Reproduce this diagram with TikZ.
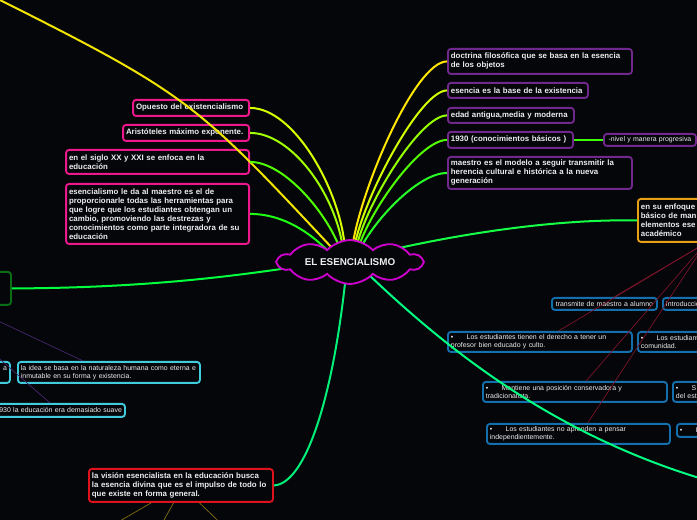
\documentclass[tikz,border=0pt]{standalone}
\usepackage{fontspec}
\setmainfont{Liberation Sans}
\usepackage{tikz}
\usetikzlibrary{shapes.symbols,calc}
\definecolor{bgink}{RGB}{5,6,10}
\definecolor{boxtext}{RGB}{238,238,238}
\definecolor{pinkline}{RGB}{236,24,140}
\definecolor{plumline}{RGB}{112,40,140}
\definecolor{blueline}{RGB}{20,112,172}
\definecolor{cyanline}{RGB}{64,204,220}
\definecolor{goldline}{RGB}{232,160,20}
\definecolor{redline}{RGB}{222,18,28}
\definecolor{forestline}{RGB}{10,110,22}
\definecolor{cloudline}{RGB}{206,0,206}
\definecolor{wineink}{RGB}{125,20,42}
\definecolor{oliveink}{RGB}{135,112,20}
\definecolor{violetink}{RGB}{72,40,112}
\newcommand\boldsm{\fontsize{5.9}{6.75}\selectfont\bfseries}
\newcommand\plainsm{\fontsize{5.2}{6}\selectfont}
\newcommand\itembul{\textbullet\hspace{10pt}}

\begin{document}
\begin{tikzpicture}[
  x=0.75pt, y=-0.75pt,
  box/.style={draw, rounded corners=2.2pt, line width=1.4pt, fill=bgink, text=boxtext,
    anchor=north west, align=left, inner xsep=2.25pt, inner ysep=0pt},
  pinkbox/.style={box, draw=pinkline, font=\boldsm, anchor=north east},
  plumbox/.style={box, draw=plumline, font=\boldsm},
  bluebox/.style={box, draw=blueline, font=\plainsm},
  cyanbox/.style={box, draw=cyanline, font=\plainsm},
  link/.style={line width=1.5pt},
  twig/.style={line width=0.5pt},
  hubcloud/.style={cloud, cloud puffs=10, cloud puff arc=95, aspect=4.6, draw=cloudline,
    line width=1.4pt, fill=bgink, text=boxtext, font=\fontsize{7.4}{8}\selectfont\bfseries,
    minimum width=108pt, minimum height=26pt, inner sep=0pt},
]
  \useasboundingbox (0,0) rectangle (697,520);
  \fill[bgink] (0,0) rectangle (697,520);
  \clip (0,0) rectangle (697,520);

  % left branch (pink)
  \node[pinkbox, text width=82.5pt, minimum height=12pt] (opuesto) at (250,99) {Opuesto del existencialismo};
  \node[pinkbox, text width=90pt, minimum height=12pt] (aristo) at (250,124) {Aristóteles máximo exponente.};
  \node[pinkbox, text width=132.75pt, minimum height=18pt] (siglo) at (250,149)
    {en el siglo XX y XXI se enfoca en la\\educación};
  \node[pinkbox, text width=132.75pt, minimum height=45pt] (maestro) at (250,183)
    {esencialismo le da al maestro es el de\\proporcionarle todas las herramientas para\\que logre que los estudiantes obtengan un\\cambio, promoviendo las destrezas y\\conocimientos como parte integradora de su\\educación};

  % right branch (plum)
  \node[plumbox, text width=133.5pt, minimum height=18.75pt] (doctrina) at (447,48)
    {doctrina filosófica que se basa en la esencia\\de los objetos};
  \node[plumbox, text width=100.5pt, minimum height=11.25pt] (base) at (447,82) {esencia es la base de la existencia};
  \node[plumbox, text width=90pt, minimum height=11.25pt] (edad) at (447,107) {edad antigua,media y moderna};
  \node[plumbox, text width=89.25pt, minimum height=12pt] (anio) at (447,131) {1930 (conocimientos básicos )};
  \node[plumbox, font=\plainsm, align=center, text width=64.5pt, minimum height=9pt] (nivel) at (603,133) {-nivel y manera progresiva};
  \node[plumbox, text width=133.5pt, minimum height=24pt] (modelo) at (447,156)
    {maestro es el modelo a seguir transmitir la\\herencia cultural e histórica a la nueva\\generación};

  % enfoque and its bullets
  \node[box, draw=goldline, font=\boldsm, text width=97.5pt, minimum height=32.25pt] (enfoque) at (637,198)
    {en su enfoque\\básico de man\\elementos ese\\académico};
  \node[bluebox, align=center, text width=74.25pt, minimum height=9pt] (transmite) at (551,297) {transmite de maestro a alumno};
  \node[bluebox, text width=70.5pt, minimum height=9pt] (intro) at (662,297) {Introducción};
  \node[bluebox, text width=133.5pt, minimum height=15pt] (derecho) at (447,331)
    {\itembul Los estudiantes tienen el derecho a tener un\\profesor bien educado y culto.};
  \node[bluebox, text width=133.5pt, minimum height=15pt] (comunidad) at (637,331)
    {\itembul Los estudiantes\\comunidad.};
  \node[bluebox, text width=133.5pt, minimum height=15pt] (mantiene) at (482,381)
    {\itembul Mantiene una posición conservadora y\\tradicionalista.};
  \node[bluebox, text width=133.5pt, minimum height=15pt] (sdel) at (672,381)
    {\itembul S\\del est};
  \node[bluebox, text width=132.75pt, minimum height=15pt] (pensar) at (486,423)
    {\itembul Los estudiantes no aprenden a pensar\\independientemente.};
  \node[bluebox, text width=133.5pt, minimum height=9.75pt] (ibox) at (676,423) {\itembul I};

  % left side
  \node[box, draw=forestline, minimum width=52.5pt, minimum height=24.75pt] (verde) at (-60,271) {};
  \node[cyanbox, align=right, text width=62.25pt, minimum height=15.75pt] (ca) at (-80,361) {a\\\mbox{}};
  \node[cyanbox, text width=132pt, minimum height=15.75pt] (idea) at (17,361)
    {la idea se basa en la naturaleza humana como eterna e\\inmutable en su forma y existencia.};
  \node[cyanbox, align=right, text width=103.5pt, minimum height=9.75pt] (suave) at (-20,403)
    {1930 la educación era demasiado suave};

  % bottom
  \node[box, draw=redline, font=\boldsm, text width=133.5pt, minimum height=24.75pt] (vision) at (88,468)
    {la visión esencialista en la educación busca\\la esencia divina que es el impulso de todo lo\\que existe en forma general.};

  % off-frame ends
  \coordinate (hub) at (350,262);
  \coordinate (farTL) at (-40,-20);
  \coordinate (farBR) at (720,484);
  \coordinate (farL) at (-93,278);

  % connectors to the hub
  \draw[link, draw={rgb,255:red,240;green,228;blue,0}] (farTL) .. controls (188,94) .. ($(hub)+(-17,-13)$);
  \draw[link, draw={rgb,255:red,215;green,255;blue,0}] (opuesto.east) .. controls +(45,0) and (341,192) .. ($(hub)+(-5,-13)$);
  \draw[link, draw={rgb,255:red,160;green,255;blue,0}] (aristo.east) .. controls +(42,0) and (336,195) .. ($(hub)+(-7,-13)$);
  \draw[link, draw={rgb,255:red,80;green,255;blue,0}] (siglo.east) .. controls +(35,0) and (328,215) .. ($(hub)+(-10,-13)$);
  \draw[link, draw={rgb,255:red,30;green,255;blue,20}] (maestro.east) .. controls +(35,0) and (312,235) .. ($(hub)+(-23,-12)$);
  \draw[link, draw={rgb,255:red,255;green,230;blue,0}] (doctrina.west) .. controls +(-32,0) and (360,190) .. ($(hub)+(2,-13)$);
  \draw[link, draw={rgb,255:red,210;green,255;blue,0}] (base.west) .. controls +(-27,0) and (362,200) .. ($(hub)+(4,-13)$);
  \draw[link, draw={rgb,255:red,150;green,255;blue,0}] (edad.west) .. controls +(-27,0) and (365,205) .. ($(hub)+(6,-13)$);
  \draw[link, draw={rgb,255:red,80;green,255;blue,0}] (anio.west) .. controls +(-27,0) and (370,210) .. ($(hub)+(8,-13)$);
  \draw[link, draw={rgb,255:red,40;green,255;blue,40}] (modelo.west) .. controls +(-27,0) and (378,215) .. ($(hub)+(10,-13)$);
  \draw[link, draw={rgb,255:red,60;green,255;blue,0}] (anio.east) -- (nivel.west);
  \draw[link, draw={rgb,255:red,20;green,255;blue,70}] ($(hub)+(40,-12)$) .. controls (470,232) and (560,219) .. (enfoque.west);
  \draw[link, draw={rgb,255:red,0;green,255;blue,60}] (verde.east) .. controls (150,288) and (240,275) .. ($(hub)+(-55,5)$);
  \draw[link, draw={rgb,255:red,0;green,255;blue,130}] ($(hub)+(18,12)$) .. controls (450,352) and (560,440) .. (farBR);
  \draw[link, draw={rgb,255:red,0;green,240;blue,120}] ($(hub)+(-4,12)$) .. controls (333,400) and (305,484) .. (vision.east);

  % thin links
  \draw[twig, wineink] (enfoque.south) -- ($(derecho.north west)!0.6!(derecho.north east)$);
  \draw[twig, wineink] (enfoque.south) -- ($(transmite.north west)!0.59!(transmite.north east)$);
  \draw[twig, wineink] (enfoque.south) -- ($(mantiene.north west)!0.56!(mantiene.north east)$);
  \draw[twig, wineink] (enfoque.south) -- ($(pensar.north west)!0.55!(pensar.north east)$);
  \draw[twig, violetink] (farL) -- ($(idea.north west)!0.36!(idea.north east)$);
  \draw[twig, violetink] (farL) -- ($(suave.north west)!0.48!(suave.north east)$);
  \foreach \f/\ex in {0.34/87, 0.46/153, 0.60/238} {
    \draw[twig, oliveink] ($(vision.south west)!\f!(vision.south east)$) -- (\ex,540);
  }

  \node[hubcloud] (core) at (hub) {EL ESENCIALISMO};
\end{tikzpicture}
\end{document}
